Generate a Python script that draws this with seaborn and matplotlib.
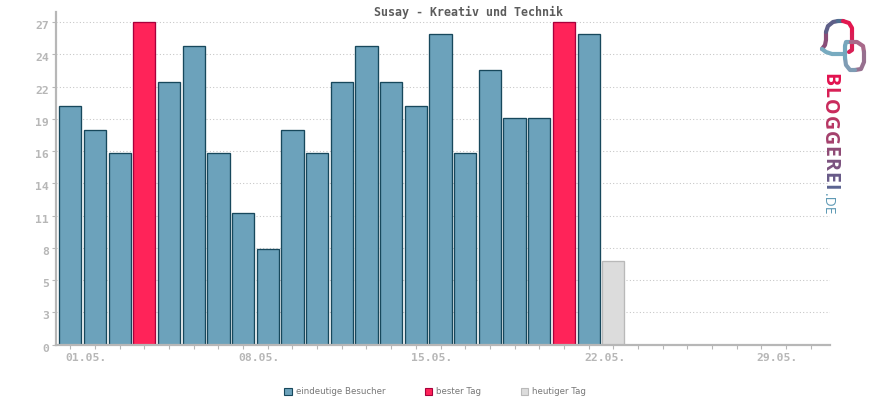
import matplotlib
matplotlib.use('Agg')
import numpy as np
import pandas as pd
import seaborn as sns
import matplotlib.pyplot as plt
from matplotlib.lines import Line2D
from matplotlib.transforms import ScaledTranslation

title = 'Susay - Kreativ und Technik'
days = list(range(1, 24))
visitors = [20, 18, 16, 27, 22, 25, 16, 11, 8, 18, 16, 22, 25, 22, 20, 26, 16, 23, 19, 19, 27, 26, 7]
best_days = [4, 21]
today = 23
ytick_labels = ['0', '3', '5', '8', '11', '14', '16', '19', '22', '24', '27']
xtick_days = [1, 8, 15, 22, 29]
xtick_labels = ['01.05.', '08.05.', '15.05.', '22.05.', '29.05.']
kinds = ['eindeutige Besucher', 'bester Tag', 'heutiger Tag']
fills = ['#6ca2bb', '#ff2359', '#dcdcdc']
edges = ['#17485c', '#a8003c', '#b9b9b9']
logo_word = 'BLOGGEREI'
logo_colors = ['#e2124f', '#d81f55', '#c92a5c', '#b83663', '#a4406c', '#8f4a75', '#7b527e', '#685a88', '#5a6390']

GRAY = '#b7b7b7'
W, H = 870, 400

sns.set_theme(style='white')
plt.rcParams['font.family'] = ['DejaVu Sans Mono']

df = pd.DataFrame({'day': days, 'visitors': visitors})
df['kind'] = kinds[0]
df.loc[df['day'].isin(best_days), 'kind'] = kinds[1]
df.loc[df['day'] == today, 'kind'] = kinds[2]

fig = plt.figure(figsize=(W / 100, H / 100), dpi=100)
ax = fig.add_axes([56 / W, (H - 344.6) / H, (830 - 56) / W, (344.6 - 12) / H])

sns.barplot(data=df, x='day', y='visitors', hue='kind', hue_order=kinds,
            palette=fills, dodge=False, native_scale=True, width=0.9,
            saturation=1, ax=ax, zorder=2)
for bars, edge in zip(ax.containers, edges):
    for bar in bars:
        bar.set_edgecolor(edge)
        bar.set_linewidth(0.95)

ax.set_xlim(0.42, 31.78)
ax.set_ylim(0, 27.84)
ax.set_xlabel('')
ax.set_ylabel('')

yticks = np.arange(11) * 2.7
ax.set_yticks(yticks, ytick_labels)
ax.set_xticks(range(1, 32), [xtick_labels[xtick_days.index(d)] if d in xtick_days else '' for d in range(1, 32)])
ax.grid(axis='y', color='#c4c4c4', linestyle=(0, (1, 2.2)), linewidth=0.75, zorder=0)
ax.set_axisbelow(True)

sns.despine(ax=ax)
for side in ['left', 'bottom']:
    ax.spines[side].set_color(GRAY)
    ax.spines[side].set_linewidth(1.6)
    ax.spines[side].set_zorder(5)
ax.tick_params(axis='both', length=3, width=0.8, color=GRAY, labelcolor=GRAY, labelsize=8.2, pad=2, bottom=True, left=True)
for lab in ax.get_xticklabels():
    lab.set_fontweight('bold')
    lab.set_transform(lab.get_transform() + ScaledTranslation(16 / 100, -1 / 100, fig.dpi_scale_trans))
for lab in ax.get_yticklabels():
    lab.set_fontweight('bold')
    lab.set_transform(lab.get_transform() + ScaledTranslation(0, -3 / 100, fig.dpi_scale_trans))

fig.text(469 / W, 1 - 12 / H, title, ha='center', va='center', fontsize=8.4, fontweight='bold', color='#5c5c5c')

handles, labels = ax.get_legend_handles_labels()
ax.get_legend().remove()
leg = fig.legend(handles, labels, loc='center', bbox_to_anchor=(435 / W, 1 - 392 / H), ncols=3, frameon=False,
                 prop={'family': 'DejaVu Sans', 'size': 6.2}, labelcolor='#777777', handlelength=0.9, handleheight=0.9,
                 handletextpad=0.4, columnspacing=4.6, borderpad=0)
for patch, edge in zip(leg.get_patches(), edges):
    patch.set_edgecolor(edge)
    patch.set_linewidth(0.8)

# logo on the right, all in pixel positions
def px(x, y):
    return x / W, 1 - y / H

def stroke(points, color, lw=3.0):
    xs, ys = zip(*[px(*p) for p in points])
    fig.add_artist(Line2D(xs, ys, color=color, linewidth=lw, solid_capstyle='round', solid_joinstyle='round'))

stroke([(822, 49), (825, 45), (826, 40), (826, 32)], '#8a4d78')
stroke([(826, 32), (828, 26), (833, 22), (838, 21)], '#5e5f88')
stroke([(838, 21), (843, 21)], '#4f6f90')
stroke([(843, 21), (849, 23), (852, 28), (852, 34)], '#e2174f')
stroke([(852, 34), (852, 44), (852, 50), (849, 52)], '#d81f55')
stroke([(822, 49), (826, 52), (832, 54), (843, 54)], '#78abc0')
stroke([(845, 46), (846, 42), (851, 42)], '#78a5bb')
stroke([(851, 42), (857, 42), (863, 46), (864, 52)], '#a8698a')
stroke([(864, 52), (864, 62), (861, 69), (855, 70)], '#97708f')
stroke([(855, 70), (850, 70), (846, 65), (845, 58)], '#7f9cb4')
stroke([(845, 58), (845, 46)], '#72a7bd')

y = 73
for ch, col in zip(logo_word, logo_colors):
    t = fig.text(824 / W, 1 - y / H, ch, rotation=-90, rotation_mode='anchor', ha='left', va='baseline',
                 family='Open Sans', fontsize=14, fontweight='bold', color=col)
    y += t.get_window_extent(fig.canvas.get_renderer()).height + 1.1
fig.text(824 / W, 1 - (y + 1) / H, '.DE', rotation=-90, rotation_mode='anchor', ha='left', va='baseline',
         family='Open Sans', fontsize=10, color='#5f9ab5')

fig.savefig('out.png', dpi=100)
